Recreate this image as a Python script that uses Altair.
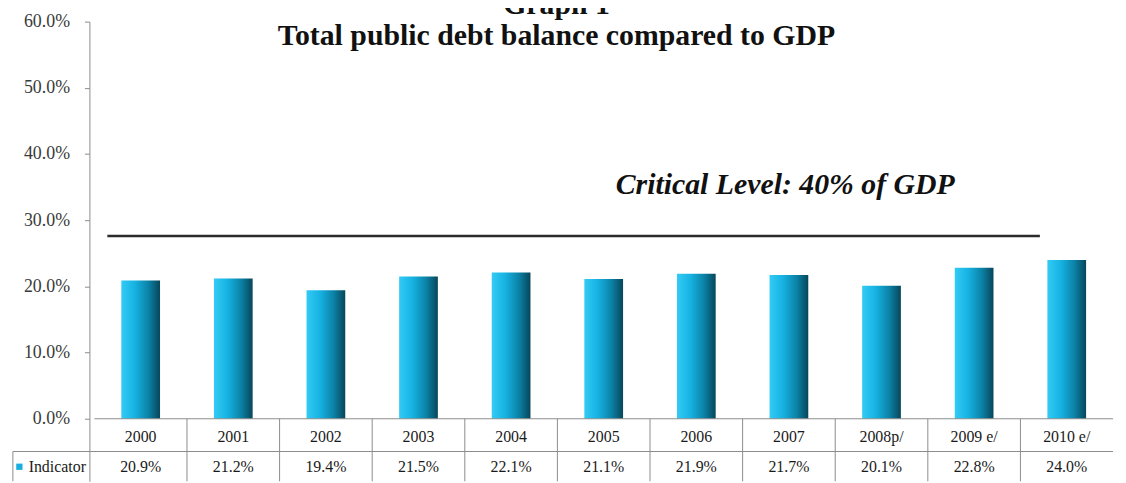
import altair as alt
import pandas as pd

# ---- data ----
years = ["2000", "2001", "2002", "2003", "2004", "2005", "2006", "2007",
         "2008p/", "2009 e/", "2010 e/"]
debt_pct = [20.9, 21.2, 19.4, 21.5, 22.1, 21.1, 21.9, 21.7, 20.1, 22.8, 24.0]
series_name = "Indicator"
y_ticks = [0, 10, 20, 30, 40, 50, 60]
critical_line_pct = 27.6
critical_label = "Critical Level: 40% of GDP"
title_top = "Graph 1"
title_main = "Total public debt balance compared to GDP"

n = len(years)
df = pd.DataFrame({
    "idx": list(range(n)),
    "year": years,
    "value": debt_pct,
    "label": [f"{v:.1f}%" for v in debt_pct],
})

# ---- layout constants (scale units) ----
X0, X1 = -0.5, n - 0.5
Y_MIN, Y_MAX = -9.45, 60
ROW1, ROW2, ROW_SPLIT = -2.75, -7.25, -4.95
LEFT_EDGE = -1.38
FONT = "Liberation Serif"
GRID = "#8c8c8c"

xs = alt.Scale(domain=[X0, X1], nice=False, zero=False)
ys = alt.Scale(domain=[Y_MIN, Y_MAX], nice=False, zero=False)

grad = alt.Gradient(
    gradient="linear",
    stops=[
        alt.GradientStop(color="#33cbf5", offset=0),
        alt.GradientStop(color="#16b2e2", offset=0.35),
        alt.GradientStop(color="#0b82a6", offset=0.7),
        alt.GradientStop(color="#07465a", offset=1),
    ],
    x1=0, x2=1, y1=0, y2=0,
)

bars = alt.Chart(df).mark_bar(size=39, color=grad).encode(
    x=alt.X("idx:Q", scale=xs, axis=None),
    y=alt.Y("value:Q", scale=ys, title=None,
            axis=alt.Axis(values=y_ticks,
                          labelExpr="format(datum.value, '.1f') + '%'",
                          grid=False, domainColor=GRID, tickColor=GRID,
                          tickSize=5, labelFont=FONT, labelFontSize=18,
                          labelColor="#3a3a3a", labelPadding=15)),
    y2=alt.datum(0),
)

# table grid
vlines = alt.Chart(pd.DataFrame({"xv": [i + 0.5 for i in range(n - 1)]})).mark_rule(
    color=GRID, strokeWidth=1
).encode(
    x=alt.X("xv:Q", scale=xs, axis=None),
    y=alt.YDatum(0, scale=ys, title=None),
    y2=alt.datum(Y_MIN),
)
hlines = alt.Chart(pd.DataFrame({
    "ya": [0, ROW_SPLIT], "xa": [X0, LEFT_EDGE], "xb": [X1, X1]
})).mark_rule(color=GRID, strokeWidth=1).encode(
    x=alt.X("xa:Q", scale=xs, axis=None), x2="xb:Q",
    y=alt.Y("ya:Q", scale=ys, title=None),
)
left_border = alt.Chart(pd.DataFrame({"xl": [LEFT_EDGE]})).mark_rule(
    color=GRID, strokeWidth=1
).encode(
    x=alt.X("xl:Q", scale=xs, axis=None),
    y=alt.YDatum(ROW_SPLIT, scale=ys, title=None),
    y2=alt.datum(Y_MIN),
)

year_text = alt.Chart(df).mark_text(font=FONT, fontSize=16, color="#1a1a1a").encode(
    x=alt.X("idx:Q", scale=xs, axis=None),
    y=alt.YDatum(ROW1, scale=ys, title=None),
    text="year:N",
)
value_text = alt.Chart(df).mark_text(font=FONT, fontSize=16, color="#1a1a1a").encode(
    x=alt.X("idx:Q", scale=xs, axis=None),
    y=alt.YDatum(ROW2, scale=ys, title=None),
    text="label:N",
)

legend_sq = alt.Chart(pd.DataFrame({"s": [series_name]})).mark_point(
    shape="square", filled=True, size=40, color="#1aaee0", opacity=1
).encode(
    x=alt.XDatum(-1.31, scale=xs, axis=None),
    y=alt.YDatum(ROW2, scale=ys, title=None),
)
legend_txt = alt.Chart(pd.DataFrame({"s": [series_name]})).mark_text(
    font=FONT, fontSize=16, color="#1a1a1a", align="left"
).encode(
    x=alt.XDatum(-1.21, scale=xs, axis=None),
    y=alt.YDatum(ROW2, scale=ys, title=None),
    text="s:N",
)

crit_rule = alt.Chart(pd.DataFrame({"c": [critical_line_pct]})).mark_rule(
    color="#2b2b2b", strokeWidth=2.6
).encode(
    x=alt.XDatum(-0.36, scale=xs, axis=None),
    x2=alt.datum(9.71),
    y=alt.Y("c:Q", scale=ys, title=None),
)
crit_text = alt.Chart(pd.DataFrame({"t": [critical_label]})).mark_text(
    font=FONT, fontSize=30, fontWeight="bold", fontStyle="italic", color="#111111"
).encode(
    x=alt.XDatum(6.96, scale=xs, axis=None),
    y=alt.YDatum(35.3, scale=ys, title=None),
    text="t:N",
)

title_txt = alt.Chart(pd.DataFrame({"t": [title_main]})).mark_text(
    font=FONT, fontSize=30, fontWeight="bold", color="#111111", baseline="alphabetic"
).encode(
    x=alt.XDatum(4.49, scale=xs, axis=None),
    y=alt.YDatum(56.5, scale=ys, title=None),
    text="t:N",
)
title_top_txt = alt.Chart(pd.DataFrame({"t": [title_top]})).mark_text(
    font=FONT, fontSize=30, fontWeight="bold", color="#111111", baseline="alphabetic"
).encode(
    x=alt.XDatum(4.49, scale=xs, axis=None),
    y=alt.YDatum(61.1, scale=ys, title=None),
    text="t:N",
)

chart = alt.layer(
    bars, vlines, hlines, left_border, crit_rule, crit_text,
    year_text, value_text, legend_sq, legend_txt, title_txt, title_top_txt,
).properties(
    width=1036, height=463,
    autosize=alt.AutoSizeParams(type="none"),
    padding={"left": 82, "top": 12, "right": 0, "bottom": 0},
    background="white",
).configure_view(stroke=None)

chart.save("out.html", embed_options={"renderer": "svg", "actions": False})
